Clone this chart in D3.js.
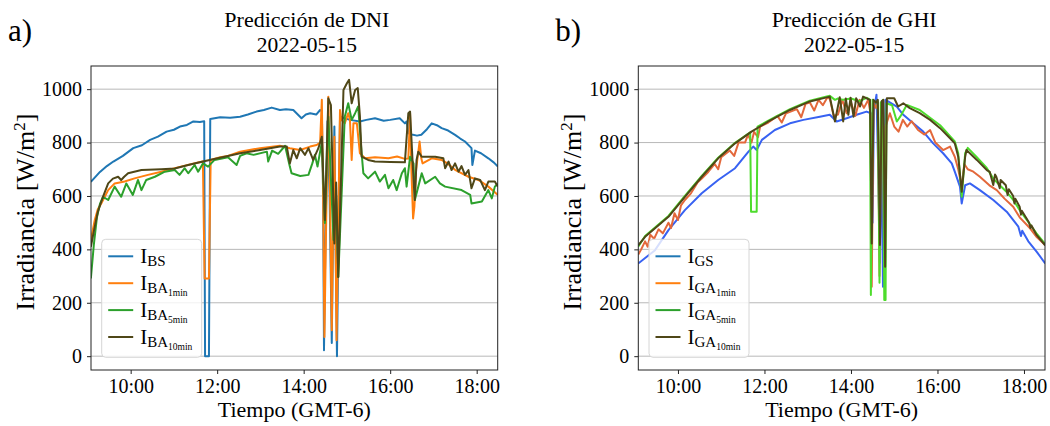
<!DOCTYPE html>
<html lang="es">
<head>
    <meta charset="UTF-8">
    <title>Predicción de DNI y GHI</title>
    <script src="https://d3js.org/d3.v7.min.js"></script>
    <style>
        body { margin: 0; background: #fff; }
        svg text { font-family: "Liberation Serif", "Times New Roman", serif; fill: #000; }
    </style>
</head>
<body>
    <div id="chart"></div>
    <script>
        // time in decimal hours (GMT-6), irradiance in W/m2
        const dniBS = [[9.08,653],[9.29,690],[9.45,712],[9.60,729],[9.82,750],[10.06,779],[10.26,790],[10.45,810],[10.63,822],[10.83,841],[11.00,848],[11.14,860],[11.30,866],[11.45,879],[11.60,877],[11.70,880],[11.72,0],[11.81,0],[11.84,888],[12.07,895],[12.30,893],[12.53,897],[12.71,905],[12.91,916],[13.08,922],[13.26,931],[13.45,922],[13.59,925],[13.76,922],[13.95,891],[14.05,905],[14.15,910],[14.29,905],[14.38,922],[14.42,918],[14.45,600],[14.47,22],[14.50,400],[14.55,880],[14.60,600],[14.65,49],[14.68,500],[14.71,860],[14.74,400],[14.77,0],[14.80,400],[14.84,897],[14.95,891],[15.07,885],[15.30,879],[15.45,885],[15.65,891],[15.85,882],[16.00,885],[16.22,891],[16.34,872],[16.38,879],[16.42,835],[16.50,830],[16.62,826],[16.72,829],[16.85,850],[16.96,872],[17.08,865],[17.19,854],[17.34,845],[17.50,829],[17.62,815],[17.73,804],[17.88,779],[17.90,716],[17.96,770],[18.10,760],[18.27,741],[18.40,725],[18.49,710]];
        const dniBA1 = [[9.08,435],[9.17,510],[9.24,550],[9.32,572],[9.48,622],[9.63,647],[9.86,654],[10.09,666],[10.40,679],[10.71,691],[11.09,707],[11.56,725],[11.67,729],[11.71,291],[11.81,291],[11.85,735],[12.07,745],[12.25,750],[12.53,766],[12.99,779],[13.45,788],[13.68,779],[13.92,772],[14.15,785],[14.30,791],[14.38,800],[14.42,960],[14.45,600],[14.48,72],[14.52,500],[14.57,972],[14.61,600],[14.65,97],[14.68,500],[14.71,822],[14.74,400],[14.76,60],[14.80,500],[14.84,922],[14.87,885],[14.95,872],[15.03,910],[15.07,885],[15.11,735],[15.15,872],[15.23,872],[15.30,760],[15.42,741],[15.65,745],[15.96,741],[16.16,748],[16.34,739],[16.42,740],[16.46,910],[16.49,700],[16.53,516],[16.56,560],[16.60,700],[16.68,804],[16.72,740],[16.75,722],[16.96,741],[17.19,735],[17.34,720],[17.50,698],[17.81,672],[18.04,660],[18.27,635],[18.49,604]];
        const dniBA5 = [[9.08,291],[9.15,420],[9.22,520],[9.29,570],[9.36,597],[9.48,585],[9.63,635],[9.78,597],[9.90,647],[10.05,604],[10.17,660],[10.25,622],[10.36,660],[10.56,672],[10.79,691],[11.02,697],[11.13,679],[11.25,704],[11.33,685],[11.48,716],[11.56,691],[11.67,722],[11.79,710],[11.94,735],[12.25,745],[12.45,716],[12.53,750],[12.68,760],[12.84,754],[13.15,766],[13.18,729],[13.27,770],[13.41,758],[13.57,788],[13.68,710],[13.72,685],[13.92,675],[14.11,679],[14.20,722],[14.26,754],[14.32,710],[14.38,766],[14.42,800],[14.49,499],[14.57,897],[14.69,435],[14.75,600],[14.80,297],[14.95,897],[15.03,947],[15.11,885],[15.19,910],[15.26,935],[15.34,760],[15.38,685],[15.49,666],[15.65,691],[15.76,654],[15.88,679],[15.96,629],[16.07,660],[16.15,622],[16.27,685],[16.34,704],[16.38,635],[16.46,747],[16.54,722],[16.57,585],[16.65,635],[16.73,685],[16.81,647],[17.04,672],[17.15,647],[17.27,635],[17.65,622],[17.85,604],[17.88,572],[18.12,579],[18.27,622],[18.35,591],[18.42,635],[18.49,647]];
        const dniBA10 = [[9.08,410],[9.17,485],[9.24,540],[9.36,597],[9.48,647],[9.59,665],[9.71,672],[9.78,660],[9.85,672],[9.94,685],[10.25,697],[10.71,700],[11.02,703],[11.33,716],[11.67,729],[12.25,750],[12.53,760],[12.99,772],[13.45,785],[13.61,785],[13.68,722],[13.76,772],[13.84,741],[13.92,779],[14.03,754],[14.11,779],[14.22,735],[14.34,779],[14.42,822],[14.49,510],[14.57,966],[14.63,940],[14.71,422],[14.75,650],[14.80,297],[14.92,997],[15.00,1022],[15.05,1035],[15.11,947],[15.19,997],[15.25,1004],[15.30,900],[15.34,747],[15.49,735],[15.65,729],[16.00,727],[16.34,726],[16.42,910],[16.46,916],[16.54,660],[16.57,585],[16.61,735],[16.65,766],[16.73,747],[17.04,747],[17.23,741],[17.27,704],[17.35,729],[17.42,697],[17.50,722],[17.58,691],[17.65,712],[17.73,679],[17.81,697],[17.88,629],[17.96,666],[18.08,660],[18.19,622],[18.27,654],[18.42,654],[18.49,635]];

        const ghiGS = [[9.08,347],[9.47,397],[9.78,472],[10.16,547],[10.55,610],[10.93,660],[11.32,704],[11.63,766],[11.74,785],[11.82,772],[11.94,810],[12.24,847],[12.59,872],[12.90,885],[13.28,897],[13.51,904],[13.67,879],[13.90,891],[14.13,904],[14.36,916],[14.46,910],[14.50,500],[14.53,920],[14.59,979],[14.63,700],[14.67,350],[14.70,900],[14.74,260],[14.77,600],[14.80,960],[15.06,935],[15.21,904],[15.44,872],[15.67,841],[15.90,797],[16.13,760],[16.33,722],[16.40,691],[16.52,635],[16.56,572],[16.64,640],[16.75,647],[16.98,622],[17.29,585],[17.60,541],[17.87,485],[17.93,450],[17.96,470],[18.10,430],[18.30,390],[18.49,347]];
        const ghiGA1 = [[9.08,380],[9.15,400],[9.24,430],[9.30,410],[9.36,455],[9.45,440],[9.55,475],[9.65,460],[9.78,500],[9.84,480],[9.92,535],[10.00,510],[10.07,565],[10.16,585],[10.30,610],[10.45,650],[10.55,665],[10.70,690],[10.85,720],[10.93,700],[11.00,745],[11.20,770],[11.30,750],[11.40,800],[11.55,800],[11.62,830],[11.70,800],[11.76,840],[11.85,820],[11.90,860],[12.09,875],[12.30,900],[12.40,875],[12.50,910],[12.59,915],[12.75,925],[12.85,895],[12.95,945],[13.05,950],[13.15,920],[13.25,960],[13.35,940],[13.45,968],[13.51,965],[13.60,900],[13.70,905],[13.80,960],[13.90,910],[14.00,950],[14.10,900],[14.20,960],[14.30,930],[14.40,960],[14.46,900],[14.48,260],[14.52,950],[14.58,930],[14.62,950],[14.66,300],[14.70,940],[14.74,950],[14.77,300],[14.80,860],[14.90,910],[15.00,860],[15.10,841],[15.20,885],[15.30,860],[15.40,880],[15.55,847],[15.70,830],[15.83,847],[15.95,800],[16.13,772],[16.29,785],[16.40,747],[16.48,700],[16.56,635],[16.62,720],[16.70,700],[16.83,691],[16.98,672],[17.20,640],[17.37,622],[17.55,590],[17.75,560],[17.90,520],[18.14,479],[18.30,445],[18.49,416]];
        const ghiGA5 = [[9.08,410],[9.24,450],[9.78,525],[10.16,600],[10.55,675],[10.93,743],[11.32,799],[11.67,838],[11.69,541],[11.82,541],[11.84,860],[12.09,882],[12.59,925],[13.05,957],[13.51,975],[13.63,960],[13.70,965],[13.82,960],[14.00,965],[14.20,955],[14.37,968],[14.44,960],[14.46,229],[14.50,960],[14.58,950],[14.62,955],[14.66,275],[14.69,950],[14.74,960],[14.77,210],[14.80,210],[14.82,947],[14.95,940],[15.06,879],[15.15,900],[15.29,941],[15.59,922],[16.06,865],[16.40,804],[16.48,760],[16.56,597],[16.64,760],[16.70,780],[16.91,745],[17.14,705],[17.29,665],[17.44,640],[17.60,615],[17.75,585],[17.91,545],[18.14,493],[18.29,460],[18.49,420]];
        const ghiGA10 = [[9.08,415],[9.24,447],[9.78,522],[10.16,597],[10.55,672],[10.93,741],[11.32,797],[11.70,841],[12.09,879],[12.59,922],[13.05,954],[13.51,972],[13.63,879],[13.74,970],[13.82,879],[13.88,965],[13.94,904],[13.99,968],[14.06,897],[14.12,966],[14.21,935],[14.28,972],[14.37,965],[14.44,960],[14.48,422],[14.52,960],[14.58,950],[14.62,960],[14.67,416],[14.71,955],[14.75,960],[14.79,335],[14.83,966],[15.00,966],[15.09,935],[15.21,947],[15.36,929],[15.59,910],[15.83,885],[16.06,854],[16.29,816],[16.40,797],[16.48,747],[16.56,616],[16.64,747],[16.67,772],[16.91,735],[17.14,697],[17.21,690],[17.29,641],[17.33,680],[17.36,672],[17.44,629],[17.46,660],[17.58,640],[17.62,604],[17.65,625],[17.75,600],[17.78,572],[17.80,590],[17.90,560],[17.93,530],[17.95,545],[18.12,500],[18.15,480],[18.17,490],[18.29,454],[18.49,415]];

        const xTicks = [10, 12, 14, 16, 18];
        const yTicks = [0, 200, 400, 600, 800, 1000];
        const xDomain = [9.083, 18.486];
        const yDomain = [-51.75, 1086.75];

        const tabColors = ["#1f77b4", "#ff7f0e", "#2ca02c", "#4f4718"];
        const ghiLineColors = ["#3862f2", "#e3683b", "#4ddc2c", "#4f4718"];

        const dniLabels = [["I", "BS", ""], ["I", "BA", "1min"], ["I", "BA", "5min"], ["I", "BA", "10min"]];
        const ghiLabels = [["I", "GS", ""], ["I", "GA", "1min"], ["I", "GA", "5min"], ["I", "GA", "10min"]];

        const W = 1050, H = 426;
        const plotW = 406.7, plotH = 304, plotTop = 66;
        const serif = "'Liberation Serif', 'Times New Roman', serif";

        const svg = d3.select("#chart").append("svg")
            .attr("width", W)
            .attr("height", H)
            .style("font-family", serif);

        function drawPanel(x0, id, letter, title, series, lineColors, legendColors, labels) {
            const g = svg.append("g").attr("transform", `translate(${x0},${plotTop})`);

            const x = d3.scaleLinear().domain(xDomain).range([0, plotW]);
            const y = d3.scaleLinear().domain(yDomain).range([plotH, 0]);

            g.append("clipPath").attr("id", "clip-" + id)
                .append("rect").attr("width", plotW).attr("height", plotH);

            // horizontal grid
            g.append("g")
                .selectAll("line")
                .data(yTicks)
                .enter()
                .append("line")
                .attr("x1", 0).attr("x2", plotW)
                .attr("y1", d => y(d)).attr("y2", d => y(d))
                .attr("stroke", "#b8b8b8")
                .attr("stroke-width", 1);

            const line = d3.line()
                .x(d => x(d[0]))
                .y(d => y(d[1]));

            g.append("g").attr("clip-path", `url(#clip-${id})`)
                .selectAll("path")
                .data(series)
                .enter()
                .append("path")
                .attr("d", d => line(d))
                .attr("fill", "none")
                .attr("stroke", (d, i) => lineColors[i])
                .attr("stroke-width", 2)
                .attr("stroke-linejoin", "round");

            // axes
            const xAxis = g.append("g")
                .attr("transform", `translate(0,${plotH})`)
                .call(d3.axisBottom(x).tickValues(xTicks).tickFormat(d => d + ":00").tickSize(4).tickPadding(5));
            const yAxis = g.append("g")
                .call(d3.axisLeft(y).tickValues(yTicks).tickFormat(d3.format("d")).tickSize(4).tickPadding(5));
            [xAxis, yAxis].forEach(a => {
                a.attr("font-family", serif).attr("font-size", 20);
                a.select(".domain").remove();
                a.selectAll("line").attr("stroke", "#222");
                a.selectAll("text").style("font-size", "20px").style("font-family", serif);
            });

            g.append("rect")
                .attr("width", plotW).attr("height", plotH)
                .attr("fill", "none")
                .attr("stroke", "#222")
                .attr("stroke-width", 1);

            // titles and labels
            g.append("text")
                .attr("x", plotW / 2 + 12.5).attr("y", 27 - plotTop)
                .attr("text-anchor", "middle")
                .style("font-size", "22px")
                .text(title);
            g.append("text")
                .attr("x", plotW / 2 + 12.5).attr("y", 52 - plotTop)
                .attr("text-anchor", "middle")
                .style("font-size", "21.5px")
                .text("2022-05-15");
            g.append("text")
                .attr("x", -83).attr("y", 41 - plotTop)
                .style("font-size", "31px")
                .text(letter);
            g.append("text")
                .attr("x", plotW / 2).attr("y", 417 - plotTop)
                .attr("text-anchor", "middle")
                .style("font-size", "22px")
                .text("Tiempo (GMT-6)");

            const yl = g.append("text")
                .attr("transform", `translate(-57,${plotH / 2 - 6}) rotate(-90)`)
                .attr("text-anchor", "middle")
                .style("font-size", "26px");
            yl.append("tspan").text("Irradiancia [W/m");
            yl.append("tspan").attr("dy", -9).style("font-size", "17px").text("2");
            yl.append("tspan").attr("dy", 9).text("]");

            // legend
            const lg = g.append("g").attr("transform", `translate(10.7,${plotH - 130.7})`);
            lg.append("rect")
                .attr("width", 100).attr("height", 118)
                .attr("rx", 4)
                .attr("fill", "#fff").attr("fill-opacity", 0.8)
                .attr("stroke", "#d6d6d6");
            labels.forEach((lab, i) => {
                const cy = 17 + i * 26.9;
                lg.append("line")
                    .attr("x1", 6.5).attr("x2", 31.5)
                    .attr("y1", cy).attr("y2", cy)
                    .attr("stroke", legendColors[i])
                    .attr("stroke-width", 2);
                const t = lg.append("text")
                    .attr("x", 38.5).attr("y", cy + 7)
                    .style("font-size", "21px");
                t.append("tspan").text(lab[0]);
                t.append("tspan").attr("dy", 3).style("font-size", "15px").text(lab[1]);
                if (lab[2]) {
                    t.append("tspan").attr("dy", 3).style("font-size", "9.5px").text(lab[2]);
                }
            });
        }

        drawPanel(91, "dni", "a)", "Predicción de DNI",
            [dniBS, dniBA1, dniBA5, dniBA10], tabColors, tabColors, dniLabels);
        drawPanel(638.3, "ghi", "b)", "Predicción de GHI",
            [ghiGS, ghiGA1, ghiGA5, ghiGA10], ghiLineColors, tabColors, ghiLabels);
    </script>
</body>
</html>
